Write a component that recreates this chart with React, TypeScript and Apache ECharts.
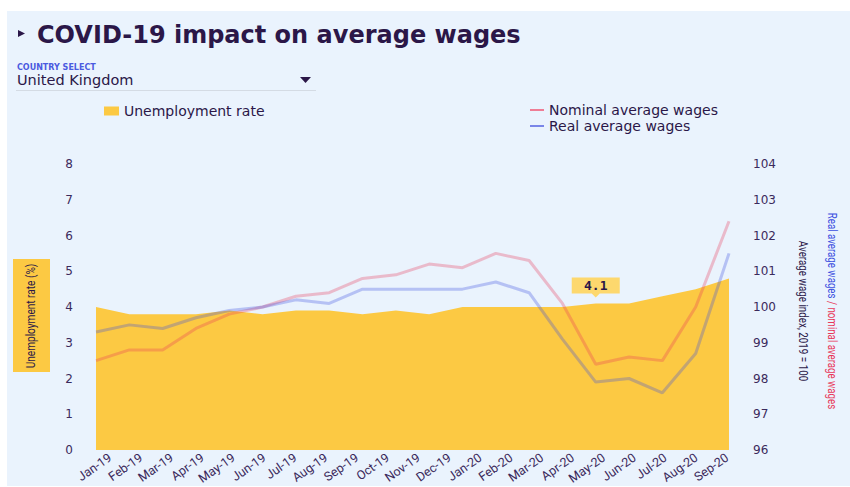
import React, { useEffect, useRef } from "react";
import * as echarts from "echarts";

const months = [
  "Jan-19", "Feb-19", "Mar-19", "Apr-19", "May-19", "Jun-19", "Jul-19", "Aug-19", "Sep-19", "Oct-19", "Nov-19", "Dec-19",
  "Jan-20", "Feb-20", "Mar-20", "Apr-20", "May-20", "Jun-20", "Jul-20", "Aug-20", "Sep-20",
];
const unemployment = [4.0, 3.8, 3.8, 3.8, 3.9, 3.8, 3.9, 3.9, 3.8, 3.9, 3.8, 4.0, 4.0, 4.0, 4.0, 4.1, 4.1, 4.3, 4.5, 4.8];
const nominalWages = [98.5, 98.8, 98.8, 99.4, 99.8, 100.0, 100.3, 100.4, 100.8, 100.9, 101.2, 101.1, 101.5, 101.3, 100.1, 98.4, 98.6, 98.5, 100.0, 102.4];
const realWages = [99.3, 99.5, 99.4, 99.7, 99.9, 100.0, 100.2, 100.1, 100.5, 100.5, 100.5, 100.5, 100.7, 100.4, 99.1, 97.9, 98.0, 97.6, 98.7, 101.5];
const leftTicks = { min: 0, max: 8, interval: 1 };
const rightTicks = { min: 96, max: 104, interval: 1 };
const highlightIndex = 15;

const DARK = "#2b1748";
const TICK = "#3b2a5c";
const YELLOW = "#fcc943";
const RED = "#e8385a";
const BLUE = "#3c50e0";
const NARROW = "Roboto";

export default function App() {
  const ref = useRef<HTMLDivElement>(null);
  useEffect(() => {
    if (!ref.current) return;
    const chart = echarts.init(ref.current, null, { renderer: "svg" });
    const toPts = (arr: number[]) => arr.map((v, i) => [i, v]);
    chart.setOption({
      animation: false,
      backgroundColor: "#ffffff",
      graphic: [
        { type: "rect", z: -10, shape: { x: 7, y: 11, width: 843, height: 475 }, style: { fill: "#eaf3fd" } },
        { type: "polygon", shape: { points: [[18, 30], [25, 33.5], [18, 37]] }, style: { fill: DARK } },
        {
          type: "text", x: 37, y: 35,
          style: { text: "COVID-19 impact on average wages", fill: DARK, fontSize: 24, fontWeight: "bold", fontFamily: "DejaVu Sans", align: "left", verticalAlign: "middle" },
        },
        {
          type: "text", x: 17, y: 67,
          style: { text: "COUNTRY SELECT", fill: "#4a5ae0", fontSize: 8, fontWeight: "bold", fontFamily: "DejaVu Sans", align: "left", verticalAlign: "middle" },
        },
        {
          type: "text", x: 17, y: 80,
          style: { text: "United Kingdom", fill: DARK, fontSize: 14.5, fontFamily: "DejaVu Sans", align: "left", verticalAlign: "middle" },
        },
        { type: "polygon", shape: { points: [[300, 77], [311, 77], [305.5, 83]] }, style: { fill: DARK } },
        { type: "line", shape: { x1: 16, y1: 90.5, x2: 316, y2: 90.5 }, style: { stroke: "#d4dbe4", lineWidth: 1 } },
        { type: "rect", shape: { x: 13, y: 259, width: 37, height: 113 }, style: { fill: YELLOW } },
        {
          type: "text", x: 31, y: 316, rotation: Math.PI / 2, scaleX: 0.84,
          style: { text: "Unemployment rate (%)", fill: DARK, fontSize: 12, fontFamily: NARROW, align: "center", verticalAlign: "middle" },
        },
        {
          type: "text", x: 803, y: 311, rotation: -Math.PI / 2, scaleX: 0.82,
          style: { text: "Average wage index, 2019 = 100", fill: DARK, fontSize: 12, fontFamily: NARROW, align: "center", verticalAlign: "middle" },
        },
        {
          type: "text", x: 832, y: 311, rotation: -Math.PI / 2, scaleX: 0.81,
          style: {
            text: "{a|Real average wages} {b|/ nominal average wages}",
            align: "center", verticalAlign: "middle",
            fontSize: 12, fontFamily: NARROW,
            rich: {
              a: { fill: BLUE, fontSize: 12, fontFamily: NARROW },
              b: { fill: RED, fontSize: 12, fontFamily: NARROW },
            },
          },
        },
      ],
      legend: [
        {
          data: [{ name: "Unemployment rate", itemStyle: { color: YELLOW } }],
          left: 99, top: 99, icon: "rect", itemWidth: 15, itemHeight: 9, itemGap: 6,
          textStyle: { color: DARK, fontSize: 14, fontFamily: "DejaVu Sans" },
          selectedMode: false,
        },
        {
          data: [
            { name: "Nominal average wages", icon: "rect", itemStyle: { color: "#ef7d95", opacity: 1 } },
            { name: "Real average wages", icon: "rect", itemStyle: { color: "#7a86e8", opacity: 1 } },
          ],
          orient: "vertical", left: 525, top: 98, itemWidth: 14, itemHeight: 2, itemGap: 2,
          textStyle: { color: DARK, fontSize: 14, fontFamily: "DejaVu Sans" },
          selectedMode: false,
        },
      ],
      grid: [
        { left: 96, right: 121, top: 164, bottom: 37 },
        { left: 110, right: 123, top: 164, bottom: 37 },
      ],
      xAxis: [
        { type: "value", gridIndex: 0, min: 0, max: unemployment.length - 1, show: false },
        {
          type: "category", gridIndex: 1, data: months, boundaryGap: false,
          axisLine: { show: false }, axisTick: { show: false },
          axisLabel: { interval: 0, rotate: 35, margin: 6, color: TICK, fontSize: 12.5, fontFamily: NARROW },
        },
      ],
      yAxis: [
        {
          type: "value", gridIndex: 0, position: "left", ...leftTicks,
          axisLine: { show: false }, axisTick: { show: false }, splitLine: { show: false },
          axisLabel: { margin: 23, color: TICK, fontSize: 12, fontFamily: "DejaVu Sans" },
        },
        {
          type: "value", gridIndex: 0, position: "right", ...rightTicks,
          axisLine: { show: false }, axisTick: { show: false }, splitLine: { show: false },
          axisLabel: { margin: 24, color: TICK, fontSize: 12, fontFamily: "DejaVu Sans" },
        },
        { type: "value", gridIndex: 1, min: 0, max: 1, show: false },
      ],
      series: [
        {
          name: "Unemployment rate", type: "line", xAxisIndex: 0, yAxisIndex: 0,
          data: toPts(unemployment), symbol: "none", color: YELLOW,
          lineStyle: { width: 0 }, areaStyle: { color: YELLOW, opacity: 1 }, z: 1,
          markPoint: {
            symbol: "path://M0,0L48,0L48,16L28,16L24,20L20,16L0,16Z",
            symbolSize: [48, 20], symbolOffset: [0, -16],
            itemStyle: { color: "#fdd86e" },
            label: {
              show: true, position: "inside", offset: [0, -2],
              formatter: (p: any) => Number(p.value).toFixed(1),
              color: DARK, fontSize: 13, fontWeight: "bold", fontFamily: "DejaVu Sans Mono",
            },
            data: [{ coord: [highlightIndex, unemployment[highlightIndex]], value: unemployment[highlightIndex] }],
          },
        },
        {
          name: "Nominal average wages", type: "line", xAxisIndex: 0, yAxisIndex: 1,
          data: toPts(nominalWages), symbol: "none", color: RED,
          lineStyle: { width: 3, color: RED, opacity: 0.3 }, z: 3,
        },
        {
          name: "Real average wages", type: "line", xAxisIndex: 0, yAxisIndex: 1,
          data: toPts(realWages), symbol: "none", color: BLUE,
          lineStyle: { width: 3, color: BLUE, opacity: 0.3 }, z: 3,
        },
      ],
    });
    return () => chart.dispose();
  }, []);
  return <div ref={ref} style={{ position: "absolute", left: 0, top: 0, width: 850, height: 487 }} />;
}
